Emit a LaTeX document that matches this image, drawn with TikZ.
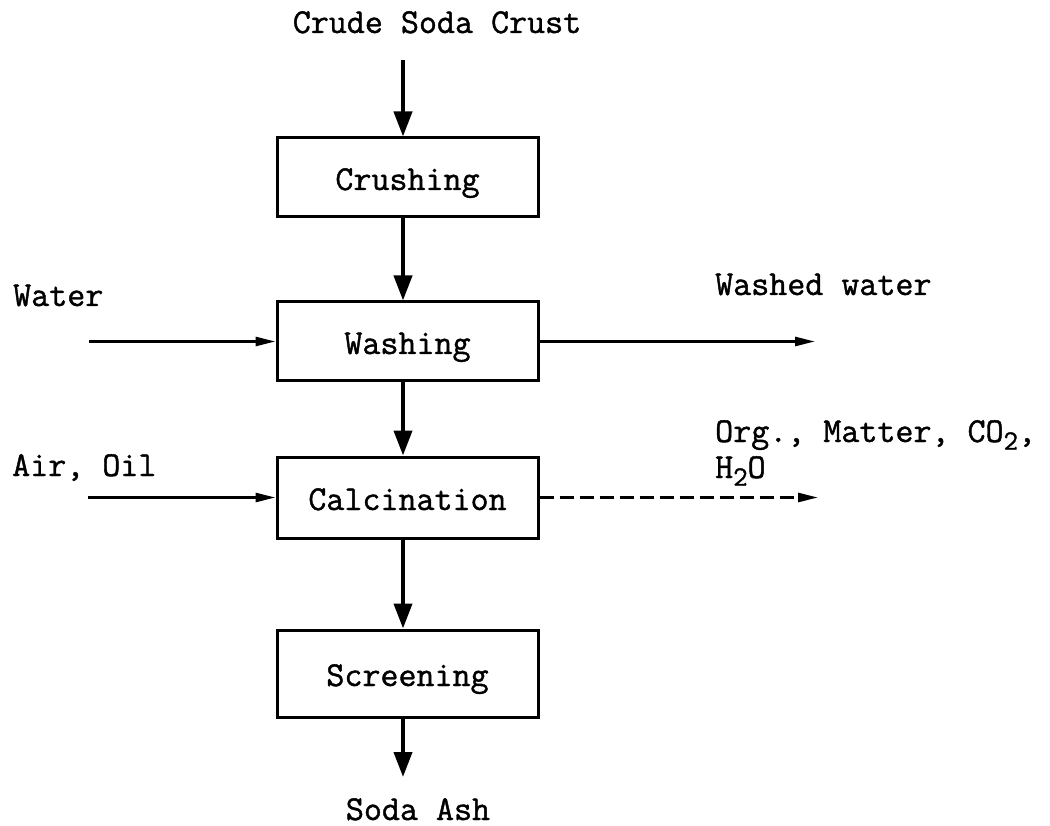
\documentclass[tikz,border=0pt]{standalone}
\usepackage{fontspec}
\newfontfamily\typed[FakeBold=1.2]{Latin Modern Mono}
\usetikzlibrary{arrows.meta}
% lowered, slightly smaller digit for chemical formulas
\newcommand{\chemsub}[1]{\raisebox{-0.22em}{\fontsize{28}{28}\selectfont #1}}
\begin{document}
\begin{tikzpicture}[x=1pt,y=-1pt,
  font=\typed\fontsize{35}{40}\selectfont,
  stage/.style={draw, line width=3pt, minimum width=261pt, inner sep=0pt,
    text height=25pt, text depth=0pt},
  feed/.style={line width=4pt, -{Triangle[length=25pt,width=18pt]}},
  side/.style={line width=2.5pt, -{Triangle[length=20pt,width=9pt]}},
  stream/.style={anchor=base west, inner sep=0pt}
]
\useasboundingbox (0,0) rectangle (1050,826);

% process stages
\node[stage, minimum height=79pt] (crush)  at (407.5,177.5) {Crushing};
\node[stage, minimum height=79pt] (wash)   at (407.5,341.5) {Washing};
\node[stage, minimum height=81pt] (calc)   at (407.5,497.5) {Calcination};
\node[stage, minimum height=87pt] (screen) at (407.5,673.5) {Screening};

% feed and product labels
\node[anchor=base, inner sep=0pt] (crude) at (437,33)  {Crude Soda Crust};
\node[anchor=base, inner sep=0pt] (ash)   at (418,820) {Soda Ash};
\node[stream] (water)  at (13,306)  {Water};
\node[stream] (washed) at (715,295) {Washed water};
\node[stream] (air)    at (12,476)  {Air, Oil};
\node[stream] (org1)   at (715,442) {Org., Matter, CO\chemsub{2},};
\node[stream] (org2)   at (715,478) {H\chemsub{2}O};

% free ends of the streams
\coordinate (crudeout) at (403,60);
\coordinate (ashin)    at (403,777);
\coordinate (waterin)  at (89,341.5);
\coordinate (washout)  at (815,341.5);
\coordinate (airin)    at (88,497.5);
\coordinate (gasout)   at (818,497.5);

% main line
\draw[feed] (crudeout) -- (crudeout |- crush.north);
\draw[feed] (crudeout |- crush.south) -- (crudeout |- wash.north);
\draw[feed] (crudeout |- wash.south) -- (crudeout |- calc.north);
\draw[feed] (crudeout |- calc.south) -- (crudeout |- screen.north);
\draw[feed] (crudeout |- screen.south) -- (ashin);

% side streams
\draw[side] (waterin) -- (wash.west);
\draw[side] (wash.east) -- (washout);
\draw[side] (airin) -- (calc.west);
\draw[side, dash pattern=on 14pt off 6pt] (calc.east) -- (gasout);
\end{tikzpicture}
\end{document}
